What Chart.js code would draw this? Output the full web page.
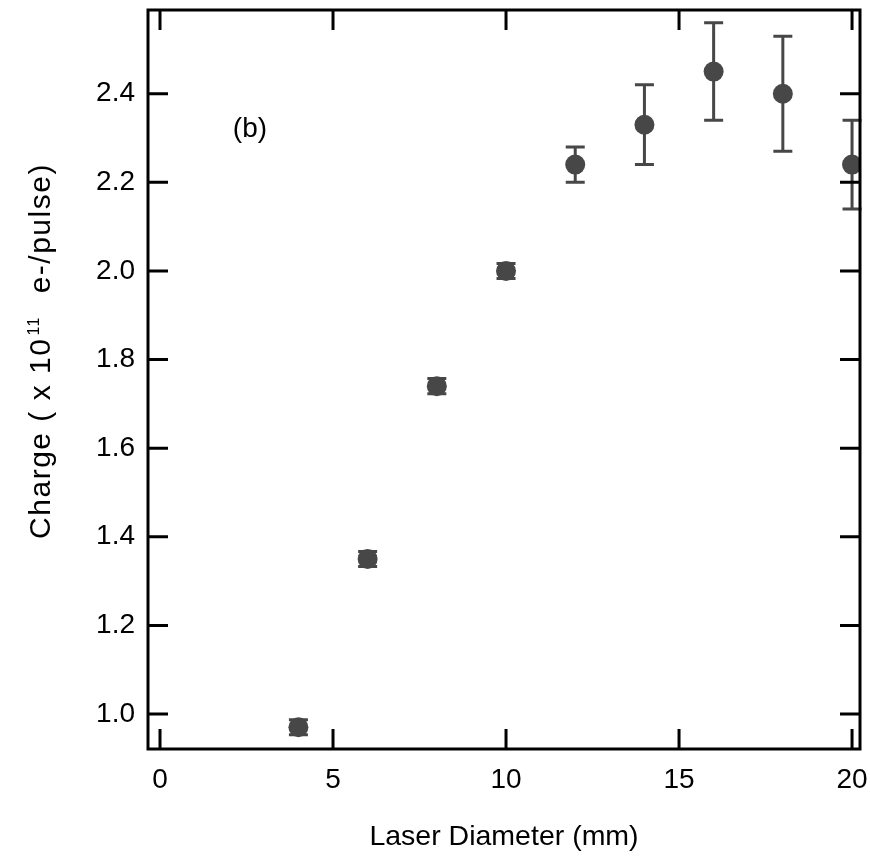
<!DOCTYPE html>
<html>
<head>
<meta charset="utf-8">
<script src="https://cdn.jsdelivr.net/npm/chart.js@4.4.1/dist/chart.umd.min.js"></script>
<style>
  html, body { margin: 0; padding: 0; background: #fff; }
  #wrap { width: 870px; height: 857px; }
</style>
</head>
<body>
<div id="wrap"><canvas id="grafico" width="870" height="857"></canvas></div>
<script>
/* Datos */
const diametros = [4, 6, 8, 10, 12, 14, 16, 18, 20];
const cargas = [0.97, 1.35, 1.74, 2.00, 2.24, 2.33, 2.45, 2.40, 2.24];
const errores = [0.017, 0.017, 0.017, 0.017, 0.04, 0.09, 0.11, 0.13, 0.10];
const ticksX = [0, 5, 10, 15, 20];
const ticksY = [1.0, 1.2, 1.4, 1.6, 1.8, 2.0, 2.2, 2.4];

const GRIS = '#474747';
const FUENTE = 'Liberation Sans, Arial, Helvetica, sans-serif';

/* Barras de error */
const barrasError = {
  id: 'barrasError',
  beforeDatasetsDraw(chart) {
    const { ctx, scales: { x, y } } = chart;
    ctx.save();
    ctx.strokeStyle = GRIS;
    ctx.lineWidth = 3;
    diametros.forEach((d, i) => {
      const px = x.getPixelForValue(d);
      const top = y.getPixelForValue(cargas[i] + errores[i]);
      const bot = y.getPixelForValue(cargas[i] - errores[i]);
      ctx.beginPath();
      ctx.moveTo(px, top); ctx.lineTo(px, bot);
      ctx.moveTo(px - 9.5, top); ctx.lineTo(px + 9.5, top);
      ctx.moveTo(px - 9.5, bot); ctx.lineTo(px + 9.5, bot);
      ctx.stroke();
    });
    ctx.restore();
  }
};

/* Marco con ticks hacia adentro, titulo Y y etiqueta (b) */
const marco = {
  id: 'marco',
  afterDraw(chart) {
    const { ctx, chartArea: a, scales: { x, y } } = chart;
    ctx.save();
    ctx.strokeStyle = '#000';
    ctx.lineWidth = 3;
    ctx.strokeRect(a.left, a.top, a.right - a.left, a.bottom - a.top);
    const largo = 20;
    ctx.beginPath();
    ticksX.forEach(v => {
      const px = x.getPixelForValue(v);
      ctx.moveTo(px, a.bottom); ctx.lineTo(px, a.bottom - largo);
      ctx.moveTo(px, a.top); ctx.lineTo(px, a.top + largo);
    });
    ticksY.forEach(v => {
      const py = y.getPixelForValue(v);
      ctx.moveTo(a.left, py); ctx.lineTo(a.left + largo, py);
      ctx.moveTo(a.right, py); ctx.lineTo(a.right - largo, py);
    });
    ctx.stroke();

    ctx.fillStyle = '#000';
    ctx.font = `28px ${FUENTE}`;
    ctx.textAlign = 'center';
    ctx.textBaseline = 'middle';
    ctx.fillText('(b)', x.getPixelForValue(2.6), y.getPixelForValue(2.32));

    /* Titulo del eje Y con superindice */
    const p1 = 'Charge ( x 10', sup = '11', p2 = '  e-/pulse)';
    ctx.letterSpacing = '1.5px';
    ctx.font = `30px ${FUENTE}`;
    const w1 = ctx.measureText(p1).width, w3 = ctx.measureText(p2).width;
    ctx.font = `16px ${FUENTE}`;
    const w2 = ctx.measureText(sup).width + 3;
    const total = w1 + w2 + w3;
    ctx.translate(50, 352);
    ctx.rotate(-Math.PI / 2);
    ctx.textAlign = 'left';
    ctx.textBaseline = 'alphabetic';
    let u = -total / 2;
    ctx.font = `30px ${FUENTE}`;
    ctx.fillText(p1, u, 0);
    u += w1 + 2;
    ctx.font = `16px ${FUENTE}`;
    ctx.fillText(sup, u, -11);
    u += w2;
    ctx.font = `30px ${FUENTE}`;
    ctx.fillText(p2, u, 0);
    ctx.restore();
  }
};

function sinMargen(scale) {
  scale.paddingTop = 0;
  scale.paddingBottom = 0;
  scale.paddingLeft = 0;
  scale.paddingRight = 0;
}

const config = {
  type: 'scatter',
  data: {
    datasets: [{
      data: diametros.map((d, i) => ({ x: d, y: cargas[i] })),
      backgroundColor: GRIS,
      borderColor: GRIS,
      borderWidth: 0,
      pointRadius: 10,
      pointHoverRadius: 10
    }]
  },
  options: {
    responsive: false,
    animation: false,
    events: [],
    layout: { padding: { top: 8, right: 4, left: 0, bottom: 0 } },
    plugins: { legend: { display: false }, tooltip: { enabled: false } },
    scales: {
      x: {
        type: 'linear',
        min: -0.347,
        max: 20.23,
        grid: { display: false, drawTicks: false },
        border: { display: false },
        ticks: {
          stepSize: 5,
          includeBounds: false,
          autoSkip: false,
          maxRotation: 0,
          padding: 14,
          color: '#000',
          font: { family: FUENTE, size: 28 }
        },
        title: {
          display: true,
          text: 'Laser Diameter (mm)',
          color: '#000',
          font: { family: FUENTE, size: 28.5 },
          padding: { top: 0, bottom: 3 }
        },
        afterFit(scale) { scale.height = 108; sinMargen(scale); }
      },
      y: {
        type: 'linear',
        min: 0.921,
        max: 2.589,
        grid: { display: false, drawTicks: false },
        border: { display: false },
        ticks: {
          stepSize: 0.2,
          includeBounds: false,
          autoSkip: false,
          padding: 13,
          color: '#000',
          font: { family: FUENTE, size: 28 },
          callback: v => v.toFixed(1)
        },
        afterFit(scale) { scale.width = 148; sinMargen(scale); }
      }
    }
  },
  plugins: [barrasError, marco]
};

new Chart(document.getElementById('grafico').getContext('2d'), config);
</script>
</body>
</html>
